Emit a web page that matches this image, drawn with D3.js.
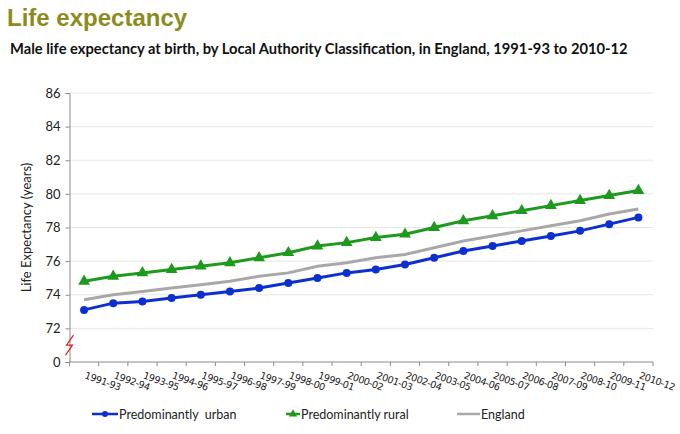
<!DOCTYPE html>
<html><head><meta charset="utf-8">
<script src="https://cdn.jsdelivr.net/npm/d3@7"></script>
<style>body{margin:0;background:#fff}svg{display:block}</style>
</head><body><svg id="c" width="680" height="434"></svg>
<script>
const periods = ["1991-93","1992-94","1993-95","1994-96","1995-97","1996-98","1997-99","1998-00","1999-01","2000-02","2001-03","2002-04","2003-05","2004-06","2005-07","2006-08","2007-09","2008-10","2009-11","2010-12"];
const urban = [73.1,73.5,73.6,73.8,74.0,74.2,74.4,74.7,75.0,75.3,75.5,75.8,76.2,76.6,76.9,77.2,77.5,77.8,78.2,78.6];
const rural = [74.8,75.1,75.3,75.5,75.7,75.9,76.2,76.5,76.9,77.1,77.4,77.6,78.0,78.4,78.7,79.0,79.3,79.6,79.9,80.2];
const england = [73.7,74.0,74.2,74.4,74.6,74.8,75.1,75.3,75.7,75.9,76.2,76.4,76.8,77.2,77.5,77.8,78.1,78.4,78.8,79.1];
const yTicks = [70,72,74,76,78,80,82,84,86];
const yTickLabels = ["0","72","74","76","78","80","82","84","86"];
const seriesNames = ["Predominantly  urban","Predominantly rural","England"];

const svg = d3.select("#c");
const L=69.5, R=653, T=93, B=362;
const x = d3.scaleBand().domain(periods).range([L,R]);
const y = d3.scaleLinear().domain([70,86]).range([B,T]);

svg.append("text").attr("x",7).attr("y",26).attr("font-family","Liberation Sans, Arial").attr("font-weight","bold")
  .attr("font-size",24).attr("fill","#8c8c1e").text("Life expectancy");
svg.append("text").attr("x",10).attr("y",54).attr("font-family","Lato, Open Sans").attr("font-weight","bold")
  .attr("font-size",14.7).attr("fill","#111").text("Male life expectancy at birth, by Local Authority Classification, in England, 1991-93 to 2010-12");

// grid
svg.append("g").selectAll("line").data(yTicks.slice(1)).join("line")
  .attr("x1",L).attr("x2",R).attr("y1",d=>y(d)).attr("y2",d=>y(d)).attr("stroke","#e6e6e6");

// y axis
const yAxis = d3.axisLeft(y).tickValues(yTicks).tickSize(4).tickFormat((d,i)=>yTickLabels[i]);
const gy = svg.append("g").attr("transform",`translate(${L},0)`).call(yAxis);
gy.select(".domain").attr("stroke","#8a8a8a");
gy.selectAll(".tick line").attr("stroke","#8a8a8a");
gy.selectAll("text").attr("font-family","Lato, Open Sans").attr("font-size",13).attr("fill","#222").attr("x",-9);

// x axis
const gx = svg.append("g").attr("transform",`translate(0,${B})`);
gx.append("line").attr("x1",L).attr("x2",R).attr("stroke","#8a8a8a");
const edges = periods.map(p=>x(p)).concat([R]);
gx.selectAll("line.t").data(edges).join("line").attr("class","t")
  .attr("x1",d=>d).attr("x2",d=>d).attr("y1",0).attr("y2",4).attr("stroke","#8a8a8a");
gx.selectAll("text").data(periods).join("text")
  .attr("transform",d=>`translate(${x(d)+x.bandwidth()/2},${16}) rotate(20)`)
  .attr("font-family","DejaVu Sans").attr("font-size",9.6).attr("letter-spacing",-0.4).attr("fill","#222").text(d=>d);

// axis break
svg.append("path").attr("d",`M${L+4},${y(71)-10} L${L-3},${y(71)} L${L+3},${y(71)} L${L-4},${y(71)+10}`)
  .attr("fill","none").attr("stroke","#e02020").attr("stroke-width",1.2);

svg.append("text").attr("transform",`translate(31,${(T+B)/2}) rotate(-90)`).attr("text-anchor","middle")
  .attr("font-family","Lato, Open Sans").attr("font-size",13).attr("fill","#222").text("Life Expectancy (years)");

const cx = d=>x(d)+x.bandwidth()/2;
const line = d3.line().x((d,i)=>cx(periods[i])).y(d=>y(d));
svg.append("path").datum(england).attr("d",line).attr("fill","none").attr("stroke","#a8a8a8").attr("stroke-width",3);
svg.append("path").datum(rural).attr("d",line).attr("fill","none").attr("stroke","#1d9a1d").attr("stroke-width",3);
svg.append("path").datum(urban).attr("d",line).attr("fill","none").attr("stroke","#0b2fd0").attr("stroke-width",3);
const tri = d3.symbol().type(d3.symbolTriangle).size(60);
svg.append("g").selectAll("path").data(rural).join("path").attr("d",tri)
  .attr("transform",(d,i)=>`translate(${cx(periods[i])},${y(d)})`).attr("fill","#1d9a1d");
svg.append("g").selectAll("circle").data(urban).join("circle")
  .attr("cx",(d,i)=>cx(periods[i])).attr("cy",d=>y(d)).attr("r",4).attr("fill","#0b2fd0");

// legend
const lg = svg.append("g").attr("font-family","Lato, Open Sans").attr("font-size",12.5).attr("fill","#222");
const leg = [{x:92,c:"#0b2fd0",m:"c"},{x:286,c:"#1d9a1d",m:"t"},{x:457,c:"#a8a8a8",m:null}];
leg.forEach((o,i)=>{
  const w = i===1?14:(i===0?26:23);
  lg.append("line").attr("x1",o.x).attr("x2",o.x+w).attr("y1",414).attr("y2",414).attr("stroke",o.c).attr("stroke-width",2.5);
  if(o.m==="c") lg.append("circle").attr("cx",o.x+w/2).attr("cy",414).attr("r",3).attr("fill",o.c);
  if(o.m==="t") lg.append("path").attr("d",d3.symbol().type(d3.symbolTriangle).size(30)).attr("transform",`translate(${o.x+w/2},414)`).attr("fill",o.c);
  lg.append("text").attr("x",o.x+w+1).attr("y",418.5).style("white-space","pre").text(seriesNames[i]);
});
</script></body></html>
